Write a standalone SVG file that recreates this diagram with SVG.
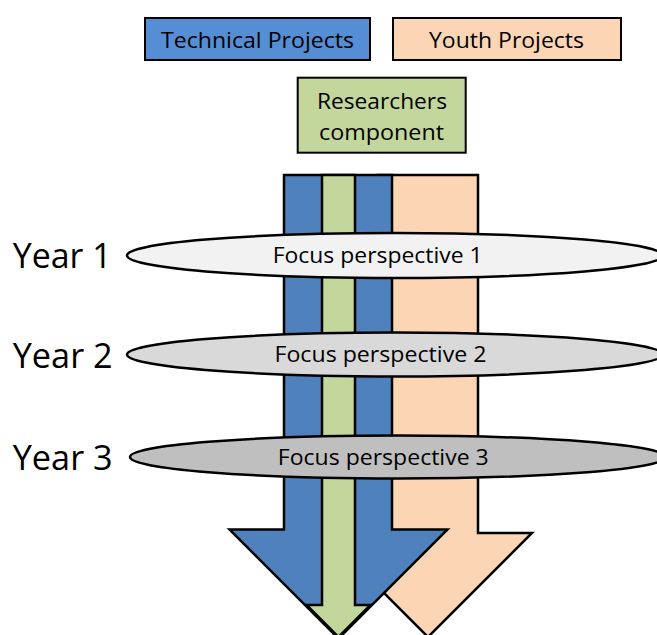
<svg xmlns="http://www.w3.org/2000/svg" width="657" height="635" viewBox="0 0 657 635">
<style>
.box{stroke:#000;stroke-width:2}
.arr{stroke:#000;stroke-width:2.5;stroke-linejoin:miter}
.ell{stroke:#000;stroke-width:2.5}
.t{font-family:"Open Sans","DejaVu Sans",sans-serif;fill:#000;text-anchor:middle}
.box-t{font-size:22.5px}
.ell-t{font-size:22.5px}
.year{font-family:"Open Sans","DejaVu Sans",sans-serif;font-size:35px;fill:#000}
</style>
<rect width="657" height="635" fill="#fff"/>
<g id="connectors">
  <polygon class="arr" fill="#FCD5B5" points="378,175 478,175 478,533 532,533 428,637 324,533 378,533"/>
  <polygon class="arr" fill="#4F81BD" points="284,175 392,175 392,529.5 447.5,529.5 338.5,638.5 229.5,529.5 284,529.5"/>
  <polygon class="arr" fill="#C3D69B" points="322,175 355,175 355,605 370.5,605 338.5,637 306.5,605 322,605"/>
</g>
<g id="technical-projects">
  <rect class="box" x="145" y="18" width="225" height="42" fill="#558ED5"/>
  <text class="t box-t" x="257.5" y="47.5" textLength="193" lengthAdjust="spacingAndGlyphs">Technical Projects</text>
</g>
<g id="youth-projects">
  <rect class="box" x="393" y="18" width="228" height="42" fill="#FCD5B5"/>
  <text class="t box-t" x="506.5" y="47.5" textLength="155" lengthAdjust="spacingAndGlyphs">Youth Projects</text>
</g>
<g id="researchers-component">
  <rect class="box" x="297.7" y="77.7" width="168" height="75" fill="#C3D69B"/>
  <text class="t box-t" x="382" y="109" textLength="130" lengthAdjust="spacingAndGlyphs">Researchers</text>
  <text class="t box-t" x="381.5" y="139.5" textLength="125" lengthAdjust="spacingAndGlyphs">component</text>
</g>
<g id="focus-1">
  <ellipse class="ell" cx="395" cy="255.5" rx="268" ry="22.5" fill="#F2F2F2"/>
  <text class="t ell-t" x="377.7" y="262.7" textLength="210" lengthAdjust="spacingAndGlyphs">Focus perspective 1</text>
</g>
<g id="focus-2">
  <ellipse class="ell" cx="395" cy="354.5" rx="268" ry="22" fill="#D9D9D9"/>
  <text class="t ell-t" x="380.5" y="362" textLength="212" lengthAdjust="spacingAndGlyphs">Focus perspective 2</text>
</g>
<g id="focus-3">
  <ellipse class="ell" cx="398" cy="457" rx="268" ry="21.5" fill="#BFBFBF"/>
  <text class="t ell-t" x="383.3" y="464.5" textLength="211" lengthAdjust="spacingAndGlyphs">Focus perspective 3</text>
</g>
<g id="year-1"><text class="year" x="12.7" y="268.3" textLength="99" lengthAdjust="spacingAndGlyphs">Year 1</text></g>
<g id="year-2"><text class="year" x="12.7" y="367.5" textLength="100" lengthAdjust="spacingAndGlyphs">Year 2</text></g>
<g id="year-3"><text class="year" x="12.7" y="470" textLength="100" lengthAdjust="spacingAndGlyphs">Year 3</text></g>
</svg>
